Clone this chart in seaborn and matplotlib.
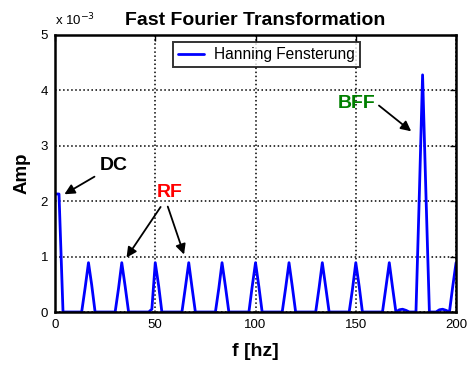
import matplotlib
matplotlib.use("Agg")
import matplotlib.pyplot as plt
import seaborn as sns
import pandas as pd

# spectrum (amplitude in units of 1e-3)
freq = [0.0, 2.0, 4.0,
        13.3, 15.0, 16.7, 18.3, 20.0,
        30.0, 31.7, 33.3, 35.0, 36.7,
        46.7, 48.3, 50.0, 51.7, 53.3,
        63.3, 65.0, 66.7, 68.3, 70.0,
        80.0, 81.7, 83.3, 85.0, 86.7,
        96.7, 98.3, 100.0, 101.7, 103.3,
        113.3, 115.0, 116.7, 118.3, 120.0,
        130.0, 131.7, 133.3, 135.0, 136.7,
        146.7, 148.3, 150.0, 151.7, 153.3,
        163.3, 165.0, 166.7, 168.3, 170.0,
        171.7, 173.3, 175.0, 176.7, 178.3,
        180.0, 181.7, 183.3, 185.0, 186.7,
        188.3, 190.0, 191.7, 193.3, 195.0,
        196.7, 198.3, 200.0]
amp = [2.13, 2.13, 0.0,
       0.0, 0.43, 0.89, 0.49, 0.0,
       0.0, 0.43, 0.89, 0.46, 0.0,
       0.0, 0.05, 0.89, 0.47, 0.0,
       0.0, 0.44, 0.89, 0.45, 0.0,
       0.0, 0.43, 0.89, 0.46, 0.0,
       0.0, 0.45, 0.89, 0.45, 0.0,
       0.0, 0.43, 0.89, 0.47, 0.0,
       0.0, 0.44, 0.89, 0.45, 0.0,
       0.0, 0.40, 0.89, 0.46, 0.0,
       0.0, 0.44, 0.89, 0.45, 0.0,
       0.04, 0.05, 0.03, 0.0, 0.0,
       0.0, 2.14, 4.28, 2.1, 0.0,
       0.0, 0.0, 0.04, 0.05, 0.03,
       0.0, 0.45, 0.89]

xticks = [0, 50, 100, 150, 200]
yticks = [0, 1, 2, 3, 4, 5]

df = pd.DataFrame({"f": freq, "amp": amp})

sns.set_style("white")
plt.rcParams["font.family"] = ["Liberation Sans", "DejaVu Sans"]
plt.rcParams["text.color"] = "black"
plt.rcParams["axes.labelcolor"] = "black"
plt.rcParams["xtick.color"] = "black"
plt.rcParams["ytick.color"] = "black"

fig = plt.figure(figsize=(4.68, 3.65), dpi=100)
ax = fig.add_axes([0.1175, 0.1452, 0.857, 0.759])

sns.lineplot(data=df, x="f", y="amp", ax=ax, color="#0000ff", lw=2,
             label="Hanning Fensterung", sort=False)

ax.set_xlim(0, 200)
ax.set_ylim(0, 5)
ax.set_xticks(xticks)
ax.set_yticks(yticks)
ax.grid(True, color="black", linestyle=":", linewidth=1.1)
ax.tick_params(axis="both", direction="in", length=4, width=1, labelsize=9.5,
               top=True, right=True, colors="black", pad=5)
for s in ax.spines.values():
    s.set_visible(True)
    s.set_linewidth(1.8)
    s.set_color("black")

ax.set_title("Fast Fourier Transformation", fontsize=14, fontweight="bold", pad=7)
ax.set_xlabel("f [hz]", fontsize=14, fontweight="bold", labelpad=9)
ax.set_ylabel("Amp", fontsize=13.5, fontweight="bold", labelpad=7)
fig.text(55 / 468, 1 - 20 / 365, "x 10$^{-3}$", fontsize=9.5, ha="left", va="center")

leg = ax.legend(loc="upper left", bbox_to_anchor=(0.294, 0.973), fontsize=11.2,
                frameon=True, fancybox=False, handlelength=1.7, handletextpad=0.65,
                borderpad=0.3, borderaxespad=0)
leg.get_frame().set_edgecolor("black")
leg.get_frame().set_linewidth(1.4)

arrow = dict(arrowstyle="-|>", color="black", lw=1.3, mutation_scale=15)
ax.annotate("DC", xy=(3.5, 2.1), xytext=(29.5, 2.65), fontsize=14, fontweight="bold",
            color="black", ha="center", va="center", arrowprops=arrow)
ax.annotate("RF", xy=(34.9, 0.94), xytext=(57.4, 2.15), fontsize=14, fontweight="bold",
            color="red", ha="center", va="center", arrowprops=arrow)
ax.annotate("", xy=(64.8, 0.99), xytext=(55.8, 1.95), arrowprops=arrow)
ax.annotate("BFF", xy=(178.7, 3.23), xytext=(150.5, 3.77), fontsize=14, fontweight="bold",
            color="#008000", ha="center", va="center",
            arrowprops=dict(arrow, relpos=(0.95, 0.6), shrinkA=0))

fig.savefig("out.png", dpi=100, facecolor="white")
